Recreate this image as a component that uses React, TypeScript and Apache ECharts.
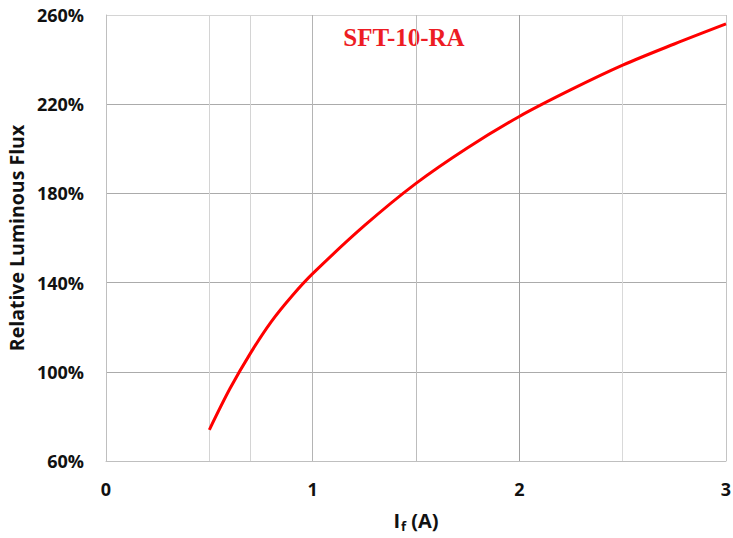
import React, { useEffect, useRef } from "react";
import * as echarts from "echarts";

const current = [0.5, 0.6, 0.7, 0.8, 0.9, 1.0, 1.25, 1.5, 1.75, 2.0, 2.25, 2.5, 2.75, 3.0];
const flux = [74, 92.5, 108.5, 122.5, 134, 144, 165.5, 184.5, 200.5, 214.5, 226.5, 237.5, 247, 256];
const verticalGrid = [0.5, 0.7, 1, 1.5, 2, 2.5, 3];
const verticalGridColors = ["#d4d4d4", "#d4d4d4", "#b4b4b4", "#bdbdbd", "#a0a0a0", "#d9d9d9", "#c4c4c4"];
const yMin = 60;
const yMax = 260;
const yStep = 40;
const xMin = 0;
const xMax = 3;
const titleText = "SFT-10-RA";
const yName = "Relative Luminous Flux";

export default function App() {
  const ref = useRef<HTMLDivElement>(null);
  useEffect(() => {
    if (!ref.current) return;
    const chart = echarts.init(ref.current, null, { renderer: "svg" });
    const labelFont = {
      fontFamily: "Open Sans",
      fontWeight: "bold" as const,
      fontSize: 18,
      color: "#111",
    };
    chart.setOption({
      animation: false,
      backgroundColor: "#fff",
      grid: {
        left: 106,
        right: 7,
        top: 15,
        bottom: 77,
        containLabel: false,
        outerBoundsMode: "none",
      },
      graphic: [
        {
          type: "text",
          x: 404,
          y: 37,
          style: {
            text: titleText,
            fontFamily: "Liberation Serif",
            fontWeight: "bold",
            fontSize: 25,
            fill: "#ed1c24",
            textAlign: "center",
            textVerticalAlign: "middle",
          },
        },
      ],
      xAxis: {
        type: "value",
        min: xMin,
        max: xMax,
        interval: 1,
        axisLine: { show: true, lineStyle: { color: "#bfbfbf", width: 1 } },
        axisTick: { show: false },
        splitLine: { show: false },
        axisLabel: { ...labelFont, margin: 19 },
        name: "{a|I}{b|f}{a| (A)}",
        nameLocation: "middle",
        nameGap: 47,
        nameTextStyle: {
          rich: {
            a: { ...labelFont, fontSize: 20 },
            b: { ...labelFont, fontSize: 13, padding: [11, 0, 0, 1] },
          },
        },
      },
      yAxis: {
        type: "value",
        min: yMin,
        max: yMax,
        interval: yStep,
        axisLine: { show: true, lineStyle: { color: "#bfbfbf", width: 1 } },
        axisTick: { show: false },
        splitLine: {
          show: true,
          lineStyle: {
            color: ["#bfbfbf", "#ababab", "#ababab", "#ababab", "#ababab", "#d4d4d4"],
            width: 1,
          },
        },
        axisLabel: { ...labelFont, margin: 22, formatter: "{value}%" },
        name: yName,
        nameLocation: "middle",
        nameGap: 80,
        nameRotate: 90,
        nameTextStyle: { ...labelFont, fontSize: 19.5 },
      },
      series: [
        {
          type: "line",
          data: [],
          silent: true,
          markLine: {
            silent: true,
            symbol: "none",
            label: { show: false },
            data: verticalGrid.map((v, i) => ({
              xAxis: v,
              lineStyle: { color: verticalGridColors[i], width: 1, type: "solid" },
            })),
          },
        },
        {
          type: "line",
          data: current.map((c, i) => [c, flux[i]]),
          smooth: 0.33,
          showSymbol: false,
          symbol: "none",
          lineStyle: { color: "#ff0000", width: 3 },
          z: 5,
        },
      ],
    });
    return () => chart.dispose();
  }, []);
  return (
    <div
      ref={ref}
      style={{ position: "fixed", left: 0, top: 0, width: 733, height: 538 }}
    />
  );
}
